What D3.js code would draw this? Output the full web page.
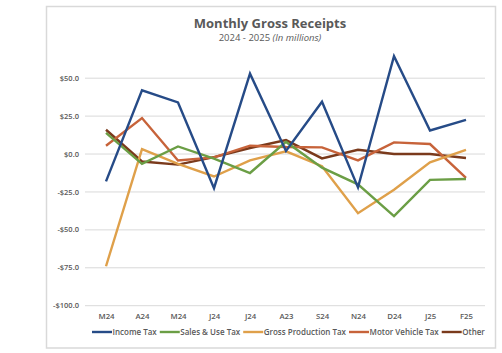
<!DOCTYPE html>
<html>
<head>
<meta charset="utf-8">
<script src="https://cdn.jsdelivr.net/npm/d3@7"></script>
<style>
  body { margin: 0; background: #fff; }
  svg { display: block; font-family: "Open Sans", "Liberation Sans", sans-serif; }
</style>
</head>
<body>
<div id="chart"></div>
<script>
var months = ["M24", "A24", "M24", "J24", "J24", "A23", "S24", "N24", "D24", "J25", "F25"];
var incomeTax = [-18, 42, 34, -22.5, 53, 2, 34.5, -22, 64.5, 15.5, 22.5];
var salesUseTax = [14, -6.5, 5, -3, -12.5, 8, -9, -20, -41, -17, -16.5];
var grossProductionTax = [-74, 3.3, -6.5, -14.8, -4.2, 1.8, -8, -39, -23.5, -5.5, 2.8];
var motorVehicleTax = [5.5, 23.7, -4.2, -2.2, 5.5, 4.6, 4.4, -4.2, 7.7, 6.6, -15.8];
var other = [16, -4.9, -7, -2, 4, 9.2, -2.9, 2.8, 0, 0, -2.6];
var yTicks = [50, 25, 0, -25, -50, -75, -100];

var series = [
  {name: "Income Tax", values: incomeTax, color: "#264b87"},
  {name: "Sales & Use Tax", values: salesUseTax, color: "#6b9e45"},
  {name: "Gross Production Tax", values: grossProductionTax, color: "#dfa04a"},
  {name: "Motor Vehicle Tax", values: motorVehicleTax, color: "#c7633a"},
  {name: "Other", values: other, color: "#7a3a1c"}
];

var W = 502, H = 353;

var svg = d3.select("#chart").append("svg")
    .attr("width", W)
    .attr("height", H);

// chart frame
svg.append("rect")
    .attr("x", 46.5).attr("y", 6.5)
    .attr("width", 449).attr("height", 341.5)
    .attr("fill", "#fff")
    .attr("stroke", "#d9d9d9")
    .attr("stroke-width", 1.5);

var x = d3.scalePoint()
    .domain(d3.range(months.length))
    .range([106, 466]);

var y = d3.scaleLinear()
    .domain([-100, 50])
    .range([305.7, 78.2]);

// gridlines
svg.append("g").selectAll("line")
  .data(yTicks)
  .enter().append("line")
    .attr("x1", 85).attr("x2", 485)
    .attr("y1", function(d) { return y(d); })
    .attr("y2", function(d) { return y(d); })
    .attr("stroke", "#d9d9d9")
    .attr("stroke-width", 1);

// y axis labels
var fmt = function(d) { return (d < 0 ? "-$" : "$") + Math.abs(d).toFixed(1); };
svg.append("g").selectAll("text")
  .data(yTicks)
  .enter().append("text")
    .attr("x", 79)
    .attr("y", function(d) { return y(d); })
    .attr("dy", "0.35em")
    .attr("text-anchor", "end")
    .attr("font-size", 7.5)
    .attr("font-weight", 600)
    .attr("fill", "#595959")
    .text(fmt);

// x axis labels
var xAxis = d3.axisBottom(x).tickSize(0).tickPadding(0)
    .tickFormat(function(i) { return months[i]; });
var gx = svg.append("g")
    .attr("transform", "translate(0,313)")
    .call(xAxis);
gx.select(".domain").remove();
gx.selectAll("text")
    .attr("font-size", 7.8)
    .attr("font-weight", 600)
    .attr("fill", "#595959")
    .attr("font-family", "'Open Sans', sans-serif");

// lines
var line = d3.line()
    .x(function(d, i) { return x(i); })
    .y(function(d) { return y(d); });

svg.append("g").selectAll("path")
  .data(series.slice().reverse())
  .enter().append("path")
    .attr("d", function(s) { return line(s.values); })
    .attr("fill", "none")
    .attr("stroke", function(s) { return s.color; })
    .attr("stroke-width", 2.4)
    .attr("stroke-linejoin", "miter");

// title
svg.append("text")
    .attr("x", 270).attr("y", 28)
    .attr("text-anchor", "middle")
    .attr("font-size", 13)
    .attr("font-weight", 700)
    .attr("fill", "#595959")
    .text("Monthly Gross Receipts");

var sub = svg.append("text")
    .attr("x", 270).attr("y", 41)
    .attr("text-anchor", "middle")
    .attr("font-size", 9.5)
    .attr("fill", "#595959");
sub.append("tspan").text("2024 - 2025 ");
sub.append("tspan").attr("font-style", "italic").text("(In millions)");

// legend
var legend = svg.append("g").attr("transform", "translate(0,332)");
var lx = 92;
series.forEach(function(s) {
  legend.append("line")
      .attr("x1", lx).attr("x2", lx + 20)
      .attr("y1", 0).attr("y2", 0)
      .attr("stroke", s.color)
      .attr("stroke-width", 2.4);
  var t = legend.append("text")
      .attr("x", lx + 20.5)
      .attr("y", 0)
      .attr("dy", "0.35em")
      .attr("font-size", 8)
      .attr("font-weight", 600)
      .attr("fill", "#595959")
      .text(s.name);
  lx += 20.5 + t.node().getComputedTextLength() + 3;
});
</script>
</body>
</html>
